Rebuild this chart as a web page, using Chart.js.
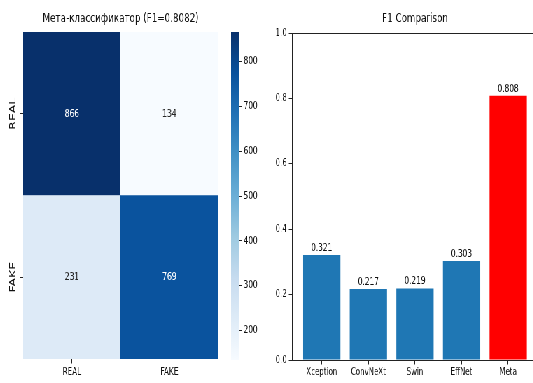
<!DOCTYPE html>
<html>
<head>
<meta charset="utf-8">
<script src="https://cdn.jsdelivr.net/npm/chart.js@4.4.1/dist/chart.umd.min.js"></script>
<style>
html,body{margin:0;padding:0;background:#fff;overflow:hidden;width:533px;height:383px;}
#wrap{position:absolute;left:0;top:0;width:761.4px;height:383px;transform:scaleX(0.7);transform-origin:0 0;overflow:hidden;}
canvas{position:absolute;top:0;}
</style>
</head>
<body>
<div id="wrap">
<canvas id="heat" width="321" height="383" style="left:0px"></canvas>
<canvas id="cbar" width="66" height="383" style="left:321px"></canvas>
<canvas id="bars" width="389" height="383" style="left:387px"></canvas>
</div>
<script>
// ---- data ----
const classLabels = ['REAL', 'FAKE'];
const rowReal = [866, 134];
const rowFake = [231, 769];
const metaF1 = 0.8082;
const colorbarTicks = [200, 300, 400, 500, 600, 700, 800];
const models = ['Xception', 'ConvNeXt', 'Swin', 'EffNet', 'Meta'];
const f1Scores = [0.321, 0.217, 0.219, 0.303, 0.808];
const f1Ticks = [0.0, 0.2, 0.4, 0.6, 0.8, 1.0];
const heatTitle = 'Мета-классификатор (F1=' + metaF1.toFixed(4) + ')';
const barTitle = 'F1 Comparison';

// ---- style helpers ----
const FONT = 'DejaVu Sans';
const TXT = '#111111';
const AX = '#222222';
const BLUES = ['#f7fbff','#deebf7','#c6dbef','#9ecae1','#6baed6','#4292c6','#2171b5','#08519c','#08306b'];
function hex(c){return [parseInt(c.slice(1,3),16),parseInt(c.slice(3,5),16),parseInt(c.slice(5,7),16)];}
function blues(t){
  t = Math.max(0, Math.min(1, t));
  const p = t * (BLUES.length - 1);
  const i = Math.min(Math.floor(p), BLUES.length - 2);
  const f = p - i;
  const a = hex(BLUES[i]), b = hex(BLUES[i+1]);
  const m = a.map((v,k)=>Math.round(v + (b[k]-v)*f));
  return 'rgb(' + m.join(',') + ')';
}
Chart.defaults.font.family = FONT;
Chart.defaults.color = TXT;

const matrix = [rowReal, rowFake];
const flat = matrix.flat();
const vmin = Math.min(...flat), vmax = Math.max(...flat);
const norm = v => (v - vmin) / (vmax - vmin);

const titlePlugin = {
  id: 'panelTitle',
  afterDraw(chart, args, opts){
    if (!opts.text) return;
    const {ctx, chartArea} = chart;
    ctx.save();
    ctx.font = '12.5px ' + FONT;
    ctx.fillStyle = TXT;
    ctx.textAlign = 'center';
    ctx.textBaseline = 'middle';
    ctx.fillText(opts.text, (chartArea.left + chartArea.right)/2, opts.y);
    ctx.restore();
  }
};

// ---- heatmap ----
const cells = [];
matrix.forEach((row, r) => row.forEach((v, c) => {
  cells.push({x: c + 0.5, y: [classLabels.length - 1 - r, classLabels.length - r], v: v});
}));
const cellText = {
  id: 'cellText',
  afterDatasetsDraw(chart){
    const {ctx} = chart;
    const meta = chart.getDatasetMeta(0);
    ctx.save();
    ctx.font = '11px ' + FONT;
    ctx.textAlign = 'center';
    ctx.textBaseline = 'middle';
    meta.data.forEach((el, i) => {
      const v = cells[i].v;
      ctx.fillStyle = norm(v) > 0.5 ? '#ffffff' : '#262626';
      ctx.fillText(String(v), el.x, (el.y + el.base)/2);
    });
    ctx.restore();
  }
};
new Chart(document.getElementById('heat'), {
  type: 'bar',
  data: {datasets: [{
    data: cells,
    backgroundColor: cells.map(c => blues(norm(c.v))),
    borderWidth: 0,
    barPercentage: 1,
    categoryPercentage: 1
  }]},
  options: {
    responsive: false, animation: false, devicePixelRatio: 1,
    layout: {padding: {top: 32, right: 9.5, left: 0, bottom: 0}},
    plugins: {legend: {display: false}, tooltip: {enabled: false}, panelTitle: {text: heatTitle, y: 19}},
    scales: {
      x: {type: 'linear', min: 0, max: classLabels.length, offset: false,
        afterBuildTicks: s => { s.ticks = classLabels.map((_, i) => ({value: i + 0.5})); },
        afterFit: s => { s.height = 24; },
        ticks: {callback: v => classLabels[Math.floor(v)], font: {size: 10.5}, color: TXT, padding: 2, maxRotation: 0, autoSkip: false},
        grid: {display: true, offset: false, drawOnChartArea: false, drawTicks: true, tickLength: 4.5, color: AX},
        border: {display: false}
      },
      y: {type: 'linear', min: 0, max: classLabels.length,
        afterBuildTicks: s => { s.ticks = classLabels.map((_, i) => ({value: i + 0.5})); },
        afterFit: s => { s.width = 33; },
        ticks: {callback: v => classLabels[classLabels.length - 1 - Math.floor(v)], font: {size: 12.5}, color: TXT,
          minRotation: 90, maxRotation: 90, crossAlign: 'center', padding: -6, autoSkip: false},
        grid: {display: true, drawOnChartArea: false, drawTicks: true, tickLength: 4.5, color: AX},
        border: {display: false}
      }
    }
  },
  plugins: [cellText, titlePlugin]
});

// ---- colorbar ----
new Chart(document.getElementById('cbar'), {
  type: 'bar',
  data: {labels: [''], datasets: [{
    data: [[vmin, vmax]],
    backgroundColor: ctx => {
      const {chart} = ctx;
      const ca = chart.chartArea;
      if (!ca) return BLUES[4];
      const g = chart.ctx.createLinearGradient(0, ca.bottom, 0, ca.top);
      BLUES.forEach((c, i) => g.addColorStop(i / (BLUES.length - 1), c));
      return g;
    },
    borderWidth: 0, barPercentage: 1, categoryPercentage: 1
  }]},
  options: {
    responsive: false, animation: false, devicePixelRatio: 1,
    layout: {padding: {top: 32, left: 9, right: 0, bottom: 23}},
    plugins: {legend: {display: false}, tooltip: {enabled: false}},
    scales: {
      x: {display: false},
      y: {position: 'right', min: vmin, max: vmax,
        afterBuildTicks: s => { s.ticks = colorbarTicks.map(v => ({value: v})); },
        afterFit: s => { s.width = 45.5; },
        ticks: {font: {size: 10.5}, color: TXT, padding: 2},
        grid: {display: true, drawOnChartArea: false, drawTicks: true, tickLength: 4.5, color: AX},
        border: {display: false}
      }
    }
  }
});

// ---- bar chart ----
const valueLabels = {
  id: 'valueLabels',
  afterDatasetsDraw(chart){
    const {ctx} = chart;
    const meta = chart.getDatasetMeta(0);
    ctx.save();
    ctx.font = '10.5px ' + FONT;
    ctx.fillStyle = TXT;
    ctx.textAlign = 'center';
    ctx.textBaseline = 'bottom';
    meta.data.forEach((el, i) => ctx.fillText(f1Scores[i].toFixed(3), el.x, el.y - 1.5));
    ctx.restore();
  }
};
new Chart(document.getElementById('bars'), {
  type: 'bar',
  data: {datasets: [{
    data: f1Scores.map((v, i) => ({x: i, y: v})),
    backgroundColor: models.map(m => m === 'Meta' ? '#ff0000' : '#1f77b4'),
    borderWidth: 0, barPercentage: 0.8, categoryPercentage: 1
  }]},
  options: {
    responsive: false, animation: false, devicePixelRatio: 1,
    layout: {padding: {top: 33, left: 0, right: 7.4, bottom: 0}},
    plugins: {legend: {display: false}, tooltip: {enabled: false}, panelTitle: {text: barTitle, y: 19}},
    scales: {
      x: {type: 'linear', min: -0.64, max: models.length - 0.36, offset: false,
        afterBuildTicks: s => { s.ticks = models.map((_, i) => ({value: i})); },
        afterFit: s => { s.height = 23; },
        ticks: {callback: v => models[v], font: {size: 10}, color: TXT, padding: 2, maxRotation: 0, autoSkip: false},
        grid: {display: true, offset: false, drawOnChartArea: false, drawTicks: true, tickLength: 4.5, color: AX},
        border: {display: true, color: AX, width: 1}
      },
      x2: {type: 'linear', position: 'top', min: 0, max: 1, offset: false,
        afterFit: s => { s.height = 0; },
        ticks: {display: false},
        grid: {display: false},
        border: {display: true, color: AX, width: 1}
      },
      y: {min: 0, max: 1,
        afterBuildTicks: s => { s.ticks = f1Ticks.map(v => ({value: v})); },
        afterFit: s => { s.width = 30; },
        ticks: {callback: v => v.toFixed(1), font: {size: 10}, color: TXT, padding: 3},
        grid: {display: true, drawOnChartArea: false, drawTicks: true, tickLength: 4.5, color: AX},
        border: {display: true, color: AX, width: 1}
      }
    }
  },
  plugins: [valueLabels, titlePlugin]
});
</script>
</body>
</html>
